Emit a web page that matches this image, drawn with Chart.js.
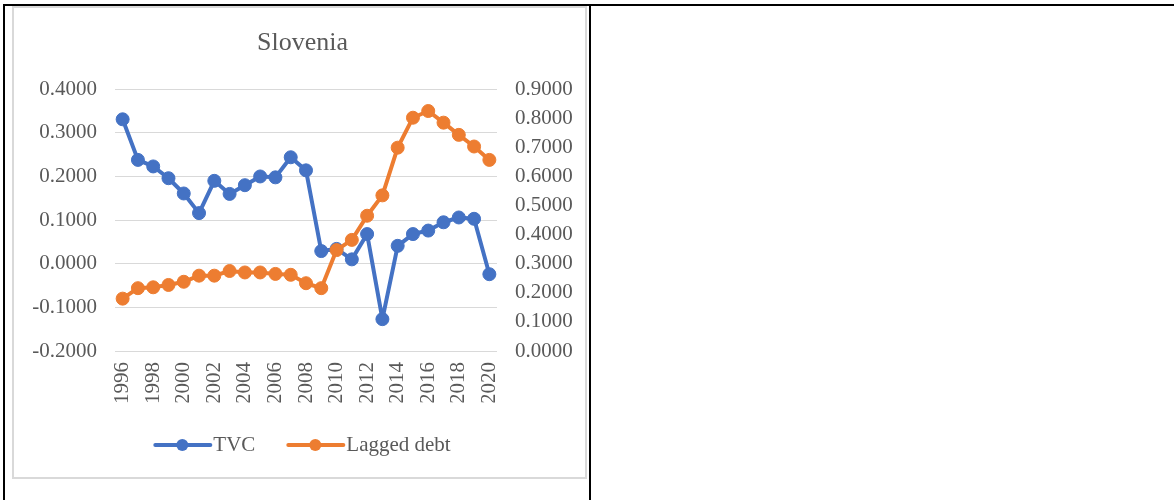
<!DOCTYPE html>
<html>
<head>
<meta charset="utf-8">
<script src="https://cdn.jsdelivr.net/npm/chart.js@4/dist/chart.umd.min.js"></script>
<style>
  html, body { margin: 0; padding: 0; background: #fff; width: 1174px; height: 500px; overflow: hidden; }
  .bl { position: absolute; background: #000; }
  #box { position: absolute; left: 12px; top: 6px; width: 571px; height: 469px; border: 2px solid #d9d9d9; background: #fff; }
  canvas { display: block; }
</style>
</head>
<body>
<div class="bl" style="left:3px;top:4px;width:1171px;height:2px;"></div>
<div class="bl" style="left:3px;top:4px;width:2px;height:496px;"></div>
<div class="bl" style="left:589px;top:4px;width:2px;height:496px;"></div>
<div id="box"><canvas id="c" width="571" height="469"></canvas></div>
<script>
const title = 'Slovenia';
const years = ['1996','1997','1998','1999','2000','2001','2002','2003','2004','2005','2006','2007','2008','2009','2010','2011','2012','2013','2014','2015','2016','2017','2018','2019','2020'];
const tvc = [0.331, 0.238, 0.223, 0.196, 0.161, 0.116, 0.190, 0.160, 0.180, 0.200, 0.198, 0.244, 0.214, 0.029, 0.034, 0.010, 0.068, -0.127, 0.041, 0.068, 0.076, 0.095, 0.106, 0.103, -0.024];
const laggedDebt = [0.180, 0.216, 0.219, 0.227, 0.238, 0.259, 0.259, 0.275, 0.270, 0.270, 0.265, 0.262, 0.233, 0.216, 0.347, 0.382, 0.465, 0.535, 0.699, 0.802, 0.825, 0.785, 0.743, 0.703, 0.657];
const seriesNames = ['TVC', 'Lagged debt'];
const seriesColors = ['#4472C4', '#ED7D31'];

const FONT = "'Liberation Serif', 'Times New Roman', serif";
const TXT = '#595959';

const legendLines = {
  id: 'legendLines',
  afterDraw(chart) {
    const lg = chart.legend;
    if (!lg || !lg.legendHitBoxes) return;
    const ctx = chart.ctx;
    lg.legendHitBoxes.forEach((h, i) => {
      const y = h.top + h.height / 2;
      const col = seriesColors[i];
      ctx.save();
      ctx.strokeStyle = col;
      ctx.lineWidth = 4;
      ctx.lineCap = 'round';
      ctx.beginPath();
      ctx.moveTo(h.left + 1, y);
      ctx.lineTo(h.left + 56, y);
      ctx.stroke();
      ctx.fillStyle = col;
      ctx.beginPath();
      ctx.arc(h.left + 28, y, 6, 0, Math.PI * 2);
      ctx.fill();
      ctx.restore();
    });
  }
};

new Chart(document.getElementById('c'), {
  type: 'line',
  data: {
    labels: years,
    datasets: [
      {
        label: seriesNames[0], data: tvc, yAxisID: 'y', order: 1,
        borderColor: seriesColors[0], backgroundColor: seriesColors[0],
        pointBackgroundColor: seriesColors[0], pointBorderColor: seriesColors[0],
        borderWidth: 4, borderJoinStyle: 'round', borderCapStyle: 'round',
        pointRadius: 6.5, pointBorderWidth: 1, tension: 0
      },
      {
        label: seriesNames[1], data: laggedDebt, yAxisID: 'y2', order: 0,
        borderColor: seriesColors[1], backgroundColor: seriesColors[1],
        pointBackgroundColor: seriesColors[1], pointBorderColor: seriesColors[1],
        borderWidth: 4, borderJoinStyle: 'round', borderCapStyle: 'round',
        pointRadius: 6.5, pointBorderWidth: 1, tension: 0
      }
    ]
  },
  options: {
    responsive: false,
    animation: false,
    devicePixelRatio: 1,
    layout: { padding: { left: 6, right: 0, top: 0, bottom: 11.5 } },
    plugins: {
      title: {
        display: true, text: title, color: TXT,
        font: { family: FONT, size: 26, weight: 'normal', lineHeight: 1.2 },
        padding: { top: 20, bottom: 30 }
      },
      legend: {
        display: true, position: 'bottom',
        labels: {
          color: TXT,
          font: { family: FONT, size: 21 },
          boxWidth: 48.5, boxHeight: 4, padding: 32,
          generateLabels: (chart) => seriesNames.map((n, i) => ({
            text: n, fillStyle: 'rgba(0,0,0,0)', strokeStyle: 'rgba(0,0,0,0)',
            lineWidth: 0, hidden: false, datasetIndex: i, fontColor: TXT
          }))
        }
      },
      tooltip: { enabled: false }
    },
    scales: {
      x: {
        offset: true,
        grid: { display: false, drawTicks: false },
        border: { display: false },
        afterFit: (s) => { s.height = 51.5; },
        ticks: {
          autoSkip: false, minRotation: 90, maxRotation: 90, padding: 11,
          color: TXT, font: { family: FONT, size: 21 },
          callback: function(v, i) { return i % 2 === 0 ? years[i] : ''; }
        }
      },
      y: {
        position: 'left', min: -0.2, max: 0.4,
        afterFit: (s) => { s.width = 95; },
        grid: { color: '#d9d9d9', lineWidth: 1, drawTicks: false },
        border: { display: false },
        ticks: {
          stepSize: 0.1, padding: 18, color: TXT,
          font: { family: FONT, size: 21 },
          callback: (v) => v.toFixed(4)
        }
      },
      y2: {
        position: 'right', min: 0, max: 0.9,
        afterFit: (s) => { s.width = 88; },
        grid: { display: false, drawTicks: false },
        border: { display: false },
        ticks: {
          stepSize: 0.1, padding: 18, color: TXT,
          font: { family: FONT, size: 21 },
          callback: (v) => v.toFixed(4)
        }
      }
    }
  },
  plugins: [legendLines]
});
</script>
</body>
</html>
